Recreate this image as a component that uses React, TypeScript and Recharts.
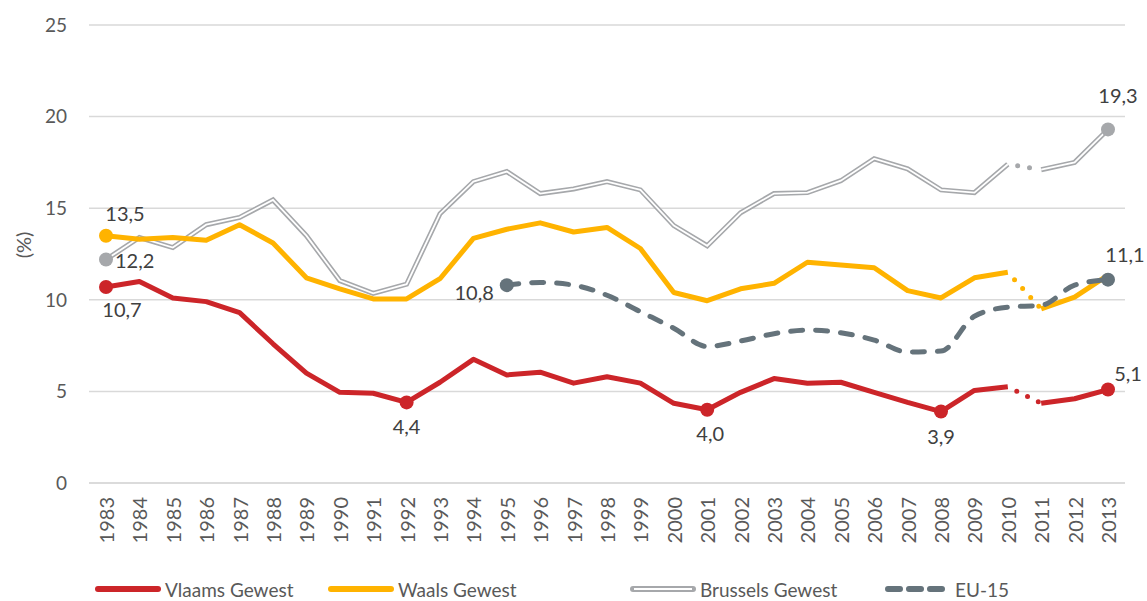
import React from 'react';
import { LineChart, Line, XAxis, YAxis, CartesianGrid, Legend } from 'recharts';

const FONT = 'Lato, sans-serif';
const RED = '#cc2529';
const YELLOW = '#ffb300';
const GREY = '#a6a8ab';
const SLATE = '#65737b';

const years = [
  '1983', '1984', '1985', '1986', '1987', '1988', '1989', '1990', '1991', '1992',
  '1993', '1994', '1995', '1996', '1997', '1998', '1999', '2000', '2001', '2002',
  '2003', '2004', '2005', '2006', '2007', '2008', '2009', '2010', '2011', '2012', '2013',
];

const vlaams = [
  10.7, 11.0, 10.1, 9.9, 9.3, 7.6, 6.0, 4.95, 4.9, 4.4,
  5.5, 6.75, 5.9, 6.05, 5.45, 5.8, 5.45, 4.35, 4.0, 4.95,
  5.7, 5.45, 5.5, 4.95, 4.4, 3.9, 5.05, 5.25, 4.35, 4.6, 5.1,
];

const waals = [
  13.5, 13.3, 13.4, 13.25, 14.1, 13.1, 11.2, 10.6, 10.05, 10.05,
  11.15, 13.35, 13.85, 14.2, 13.7, 13.95, 12.8, 10.4, 9.95, 10.6,
  10.9, 12.05, 11.9, 11.75, 10.5, 10.1, 11.2, 11.5, 9.5, 10.15, 11.35,
];

const brussels = [
  12.2, 13.4, 12.85, 14.1, 14.5, 15.45, 13.5, 11.05, 10.35, 10.85,
  14.7, 16.45, 17.0, 15.8, 16.05, 16.45, 16.0, 14.05, 12.95, 14.75,
  15.8, 15.85, 16.5, 17.7, 17.15, 16.0, 15.85, 17.4, 17.1, 17.5, 19.3,
];

const eu15 = [
  null, null, null, null, null, null, null, null, null, null, null, null,
  10.8, 10.95, 10.8, 10.25, 9.35, 8.45, 7.45, 7.75, 8.15, 8.35, 8.2,
  7.8, 7.15, 7.2, 9.1, 9.6, 9.7, 10.8, 11.1,
];

const yTicks = [0, 5, 10, 15, 20, 25];

// break in the regional series between 2010 and 2011
const SPLIT = years.indexOf('2010');

type Mark = { idx: number; dx: number; dy: number; anchor?: 'start' | 'middle' | 'end' };

const vlaamsMarks: Mark[] = [
  { idx: 0, dx: 16, dy: 22 },
  { idx: 9, dx: 0, dy: 24 },
  { idx: 18, dx: 3, dy: 23 },
  { idx: 25, dx: 0, dy: 24 },
  { idx: 30, dx: 20, dy: -17 },
];
const waalsMarks: Mark[] = [{ idx: 0, dx: 19, dy: -23 }];
const brusselsMarks: Mark[] = [
  { idx: 0, dx: 9, dy: 1, anchor: 'start' },
  { idx: 30, dx: 10, dy: -34 },
];
const euMarks: Mark[] = [
  { idx: 12, dx: -13, dy: 7, anchor: 'end' },
  { idx: 30, dx: 17, dy: -26 },
];

const fmt = (v: number) => v.toFixed(1).replace('.', ',');

const data = years.map((year, i) => ({
  year,
  vlA: i <= SPLIT ? vlaams[i] : null,
  vlB: i > SPLIT ? vlaams[i] : null,
  vlGap: i === SPLIT || i === SPLIT + 1 ? vlaams[i] : null,
  waA: i <= SPLIT ? waals[i] : null,
  waB: i > SPLIT ? waals[i] : null,
  waGap: i === SPLIT || i === SPLIT + 1 ? waals[i] : null,
  brA: i <= SPLIT ? brussels[i] : null,
  brB: i > SPLIT ? brussels[i] : null,
  brGap: i === SPLIT || i === SPLIT + 1 ? brussels[i] : null,
  eu: eu15[i],
}));

const markDot = (marks: Mark[], fill: string, values: (number | null)[]) => (props: any) => {
  const { cx, cy, index, value } = props;
  const m = marks.find((k) => k.idx === index);
  if (!m || value == null || cx == null || cy == null) return <g key={`d${index}`} />;
  return (
    <g key={`d${index}`}>
      <circle cx={cx} cy={cy} r={7} fill={fill} />
      <text
        x={cx + m.dx}
        y={cy + m.dy}
        textAnchor={m.anchor || 'middle'}
        dominantBaseline="central"
        fontFamily={FONT}
        fontSize={20}
        fill="#404040"
      >
        {fmt(values[index] as number)}
      </text>
    </g>
  );
};

const YearTick = (props: any) => {
  const { x, y, payload } = props;
  return (
    <g transform={`translate(${x},${y})`}>
      <text
        transform="rotate(-90)"
        x={-14}
        y={0}
        textAnchor="end"
        dominantBaseline="central"
        fontFamily={FONT}
        fontSize={20}
        fill="#595959"
      >
        {payload.value}
      </text>
    </g>
  );
};

const PctLabel = (p: any) => {
  const vb = p.viewBox || { x: 0, y: 25, width: 89, height: 458 };
  const cy = vb.y + vb.height / 2 - 9;
  return (
    <text
      x={23}
      y={cy}
      transform={`rotate(-90, 23, ${cy})`}
      textAnchor="middle"
      dominantBaseline="central"
      style={{ fontFamily: FONT, fontSize: 20, fill: '#595959' }}
    >
      (%)
    </text>
  );
};

const legendItems = [
  { name: 'Vlaams Gewest', kind: 'solid', color: RED, left: 95 },
  { name: 'Waals Gewest', kind: 'solid', color: YELLOW, left: 328 },
  { name: 'Brussels Gewest', kind: 'double', color: GREY, left: 630 },
  { name: 'EU-15', kind: 'dash', color: SLATE, left: 885 },
];

function LegendIcon({ kind, color }: { kind: string; color: string }) {
  return (
    <svg width={66} height={10}>
      {kind === 'solid' && (
        <line x1={3} y1={5} x2={63} y2={5} stroke={color} strokeWidth={6} strokeLinecap="round" />
      )}
      {kind === 'double' && (
        <>
          <line x1={3} y1={5} x2={63} y2={5} stroke={color} strokeWidth={6} strokeLinecap="round" />
          <line x1={4} y1={5} x2={62} y2={5} stroke="#fff" strokeWidth={2} />
        </>
      )}
      {kind === 'dash' && (
        <line x1={3} y1={5} x2={63} y2={5} stroke={color} strokeWidth={6} strokeLinecap="round" strokeDasharray="12 9" />
      )}
    </svg>
  );
}

function LegendContent() {
  return (
    <div style={{ position: 'relative', height: 24, width: 1125 }}>
      {legendItems.map((it) => (
        <div
          key={it.name}
          style={{ position: 'absolute', left: it.left, top: 0, height: 24, display: 'flex', alignItems: 'center' }}
        >
          <LegendIcon kind={it.kind} color={it.color} />
          <span style={{ marginLeft: 4, fontFamily: FONT, fontSize: 19, color: '#595959', whiteSpace: 'nowrap' }}>
            {it.name}
          </span>
        </div>
      ))}
    </div>
  );
}

const gapProps = {
  strokeWidth: 5,
  strokeLinecap: 'round' as const,
  strokeDasharray: '0 12',
  strokeDashoffset: 2,
  dot: false,
  activeDot: false,
  connectNulls: false,
  isAnimationActive: false,
  type: 'linear' as const,
};

export default function App() {
  return (
    <div style={{ position: 'absolute', left: 0, top: 0, background: '#fff' }}>
      <LineChart width={1147} height={601} data={data} margin={{ top: 25, right: 22, bottom: 0, left: 0 }}>
        <CartesianGrid vertical={false} stroke="#d9d9d9" strokeWidth={1.5} />
        <XAxis
          dataKey="year"
          scale="point"
          padding={{ left: 17, right: 17 }}
          height={94}
          interval={0}
          tickLine={false}
          tickSize={0}
          tickMargin={0}
          axisLine={{ stroke: '#d9d9d9', strokeWidth: 1.5 }}
          tick={<YearTick />}
        />
        <YAxis
          width={89}
          domain={[0, 25]}
          ticks={yTicks}
          axisLine={false}
          tickLine={false}
          tickSize={0}
          tickMargin={22}
          tick={{ fontFamily: FONT, fontSize: 19, fill: '#595959' }}
          label={<PctLabel />}
        />
        <Legend verticalAlign="bottom" wrapperStyle={{ left: 0, bottom: 0 }} content={() => <LegendContent />} />

        {/* Brussels: grey double line (grey outer, white core) */}
        <Line dataKey="brA" type="linear" stroke={GREY} strokeWidth={5} dot={false} activeDot={false} isAnimationActive={false} />
        <Line dataKey="brB" type="linear" stroke={GREY} strokeWidth={5} dot={false} activeDot={false} isAnimationActive={false} />
        <Line dataKey="brA" type="linear" stroke="#fff" strokeWidth={1.8} dot={markDot(brusselsMarks, GREY, brussels)} activeDot={false} isAnimationActive={false} legendType="none" />
        <Line dataKey="brB" type="linear" stroke="#fff" strokeWidth={1.8} dot={markDot(brusselsMarks, GREY, brussels)} activeDot={false} isAnimationActive={false} legendType="none" />
        <Line dataKey="brGap" stroke={GREY} {...gapProps} />

        {/* Vlaams */}
        <Line dataKey="vlA" type="linear" stroke={RED} strokeWidth={5} strokeLinejoin="round" dot={markDot(vlaamsMarks, RED, vlaams)} activeDot={false} isAnimationActive={false} />
        <Line dataKey="vlB" type="linear" stroke={RED} strokeWidth={5} strokeLinejoin="round" dot={markDot(vlaamsMarks, RED, vlaams)} activeDot={false} isAnimationActive={false} />
        <Line dataKey="vlGap" stroke={RED} {...gapProps} />

        {/* Waals */}
        <Line dataKey="waA" type="linear" stroke={YELLOW} strokeWidth={5} strokeLinejoin="round" dot={markDot(waalsMarks, YELLOW, waals)} activeDot={false} isAnimationActive={false} />
        <Line dataKey="waB" type="linear" stroke={YELLOW} strokeWidth={5} strokeLinejoin="round" dot={false} activeDot={false} isAnimationActive={false} />
        <Line dataKey="waGap" stroke={YELLOW} {...gapProps} />

        {/* EU-15 */}
        <Line
          dataKey="eu"
          type="monotone"
          stroke={SLATE}
          strokeWidth={5}
          strokeLinecap="round"
          strokeDasharray="12 13"
          dot={markDot(euMarks, SLATE, eu15)}
          activeDot={false}
          isAnimationActive={false}
        />
      </LineChart>
    </div>
  );
}
